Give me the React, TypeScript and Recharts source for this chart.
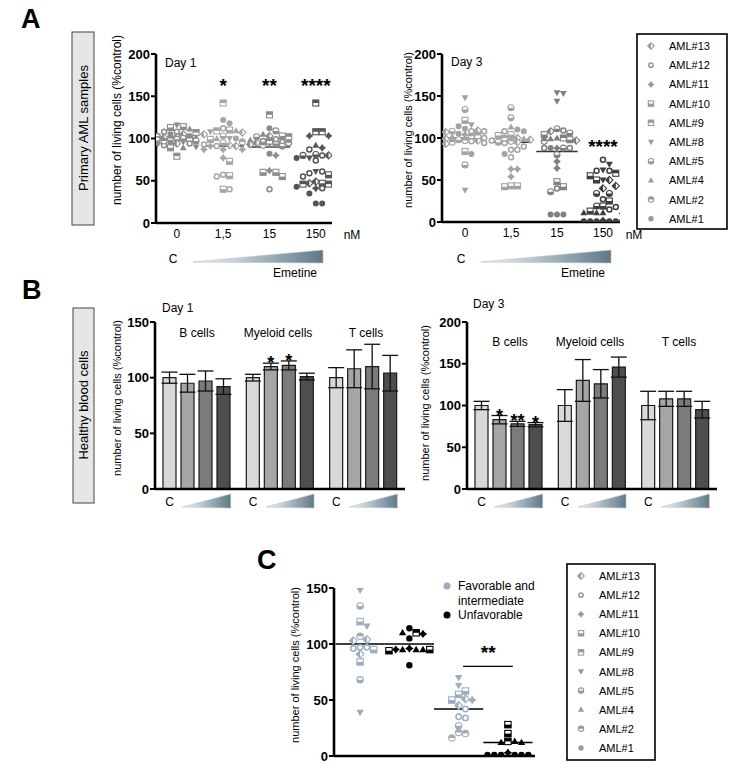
import React from 'react';
import { ScatterChart, Scatter, XAxis, YAxis, ReferenceLine, BarChart, Bar, ErrorBar, LabelList } from 'recharts';

const FONT = '"Liberation Sans", Arial, Helvetica, sans-serif';

type Pt = [string, number];

const legendSamples = ['13', '12', '11', '10', '9', '8', '5', '4', '2', '1'];
const doseLabels = ['0', '1,5', '15', '150'];

// Panel A, day 1: [AML sample, % of control]
const day1Dose0: Pt[] = [['8', 116], ['10', 114], ['13', 105], ['12', 108], ['12', 108], ['9', 107], ['4', 111], ['10', 113], ['1', 103], ['12', 103], ['13', 102], ['1', 105], ['5', 100], ['2', 100], ['12', 99], ['13', 101], ['5', 99], ['9', 100], ['4', 101], ['8', 96], ['12', 94], ['12', 92], ['8', 90], ['13', 94], ['11', 94], ['1', 95], ['4', 89], ['10', 89], ['9', 79], ['2', 97], ['5', 97]];
const day1Dose1: Pt[] = [['9', 142], ['1', 118], ['1', 122], ['10', 110], ['9', 109], ['8', 108], ['13', 107], ['4', 109], ['12', 112], ['13', 105], ['8', 100], ['4', 100], ['1', 100], ['10', 99], ['12', 91], ['13', 92], ['12', 93], ['13', 91], ['11', 91], ['11', 87], ['11', 87], ['11', 87], ['11', 77], ['10', 73], ['10', 56], ['12', 55], ['12', 57], ['10', 40], ['12', 40], ['5', 95], ['2', 96], ['5', 103]];
const day1Dose2: Pt[] = [['9', 128], ['1', 112], ['5', 109], ['4', 105], ['13', 103], ['5', 102], ['10', 103], ['9', 102], ['12', 96], ['13', 95], ['5', 94], ['2', 95], ['12', 97], ['4', 98], ['13', 93], ['8', 93], ['2', 92], ['5', 91], ['11', 80], ['1', 82], ['11', 62], ['10', 60], ['10', 55], ['10', 60], ['12', 40], ['12', 99], ['9', 97]];
const day1Dose3: Pt[] = [['9', 142], ['9', 108], ['11', 103], ['11', 103], ['9', 108], ['11', 89], ['12', 87], ['4', 92], ['5', 81], ['12', 80], ['13', 80], ['5', 80], ['12', 80], ['8', 77], ['1', 77], ['12', 74], ['8', 61], ['12', 59], ['12', 55], ['5', 55], ['10', 57], ['12', 61], ['10', 47], ['13', 49], ['9', 46], ['9', 46], ['13', 47], ['13', 45], ['11', 41], ['1', 43], ['12', 41], ['1', 35], ['1', 23], ['1', 23]];
const day1Means = [100, 91, 90, 68];
const day1Stars = ['', '*', '**', '****'];
const day1StarLevel = 167;

// Panel A, day 3
const day3Dose0: Pt[] = [['8', 148], ['5', 134], ['10', 121], ['8', 116], ['1', 114], ['1', 111], ['13', 109], ['12', 108], ['5', 108], ['13', 107], ['12', 108], ['11', 104], ['2', 102], ['4', 101], ['12', 100], ['13', 99], ['5', 98], ['2', 97], ['12', 96], ['13', 97], ['2', 95], ['12', 94], ['13', 93], ['10', 84], ['1', 81], ['5', 68], ['8', 38], ['9', 103], ['1', 105]];
const day3Dose1: Pt[] = [['5', 136], ['5', 124], ['4', 113], ['12', 108], ['10', 104], ['1', 110], ['10', 103], ['1', 108], ['13', 98], ['13', 100], ['4', 99], ['12', 97], ['2', 96], ['5', 95], ['12', 94], ['13', 95], ['12', 86], ['12', 90], ['12', 86], ['12', 77], ['1', 81], ['11', 63], ['11', 63], ['11', 54], ['10', 43], ['10', 42], ['10', 43], ['2', 100]];
const day3Dose2: Pt[] = [['8', 154], ['8', 153], ['8', 144], ['5', 111], ['13', 108], ['12', 109], ['10', 104], ['5', 106], ['4', 100], ['4', 99], ['10', 98], ['9', 100], ['13', 97], ['11', 88], ['5', 88], ['1', 88], ['12', 88], ['12', 88], ['5', 80], ['11', 72], ['11', 64], ['10', 48], ['10', 42], ['12', 40], ['5', 36], ['1', 9], ['1', 9], ['1', 9], ['2', 96]];
const day3Dose3: Pt[] = [['12', 74], ['8', 62], ['12', 61], ['12', 61], ['8', 69], ['9', 58], ['8', 50], ['13', 50], ['10', 55], ['10', 50], ['13', 43], ['13', 40], ['5', 34], ['5', 34], ['12', 27], ['10', 25], ['10', 19], ['5', 19], ['12', 18], ['10', 13], ['4', 11], ['4', 11], ['4', 11], ['4', 12], ['1', 1], ['1', 1], ['1', 1], ['1', 1], ['1', 1], ['1', 1], ['1', 1], ['11', 2], ['12', 15]];
const day3Means = [100, 95, 84, 30];
const day3Stars = ['', '', '', '****'];
const day3StarLevel = 94;

// Panel B: rows = cell types, columns = control, then increasing emetine
const cellTypes = ['B cells', 'Myeloid cells', 'T cells'];
const bDay1Means = [[100, 95, 97, 92], [100, 110, 111, 101], [100, 108, 110, 104]];
const bDay1Errors = [[5, 8, 9, 7], [3, 3, 4, 3], [9, 17, 20, 16]];
const bDay1Stars = [['', '', '', ''], ['', '*', '*', ''], ['', '', '', '']];
const bDay3Means = [[100, 83, 78, 77], [100, 130, 126, 146], [100, 108, 108, 95]];
const bDay3Errors = [[5, 5, 3, 2.5], [19, 25, 17, 12], [17, 9, 9, 10]];
const bDay3Stars = [['', '*', '**', '*'], ['', '', '', ''], ['', '', '', '']];

// Panel C: favorable/intermediate vs unfavorable, control and 150 nM
const cFavCtrl: Pt[] = [['8', 148], ['5', 134], ['8', 116], ['10', 120], ['2', 107], ['13', 104], ['13', 103], ['12', 97], ['12', 97], ['10', 95], ['13', 91], ['12', 96], ['10', 84], ['5', 68], ['8', 39]];
const cUnfCtrl: Pt[] = [['9', 110], ['1', 114], ['11', 109], ['4', 110], ['1', 105], ['11', 96], ['4', 95], ['4', 95], ['4', 95], ['11', 95], ['10', 94], ['10', 95], ['1', 81]];
const cFavTreated: Pt[] = [['8', 70], ['8', 63], ['10', 58], ['10', 55], ['10', 50], ['11', 50], ['13', 51], ['13', 45], ['12', 42], ['12', 35], ['12', 34], ['5', 27], ['2', 21], ['2', 16], ['2', 20]];
const cUnfTreated: Pt[] = [['10', 28], ['10', 20], ['9', 13], ['4', 12], ['4', 12], ['4', 13], ['1', 1], ['1', 1], ['1', 1], ['1', 1], ['1', 1], ['1', 1], ['11', 3]];
const cMeans = [100, 100, 42, 12];
const cSigLevel = 80;

const day1Colors = ['#8c8c8c', '#a6a6a6', '#8c8c8c', '#555555'];
const day1MeanColors = ['#222', '#333', '#444', '#aaa'];
const day3Colors = ['#a3a3a3', '#a3a3a3', '#808080', '#3d3d3d'];
const day3MeanColors = ['#666', '#333', '#333', '#222'];
const cColors = ['#9dadbf', '#000', '#9dadbf', '#000'];
const barFills = ['#d9d9d9', '#a6a6a6', '#7b7b7b', '#4e4e4e'];

// greedy beeswarm, returns x offsets in axis units
function swarm(vals: number[], pxX: number, pxY: number, step: number, maxPx: number) {
  const order = vals.map((_, i) => i).sort((a, b) => vals[b] - vals[a]);
  const cands = [0];
  for (let k = 1; k * step <= maxPx + 0.01; k++) cands.push(k * step, -k * step);
  const placed: { x: number; y: number }[] = [];
  const out = new Array(vals.length).fill(0);
  for (const i of order) {
    const y = vals[i] * pxY;
    let best = 0;
    let bestD = -1;
    for (const c of cands) {
      let d = Infinity;
      for (const p of placed) d = Math.min(d, Math.hypot(p.x - c, p.y - y));
      if (d >= step * 0.95) { best = c; break; }
      if (d > bestD) { bestD = d; best = c; }
    }
    placed.push({ x: best, y });
    out[i] = best / pxX;
  }
  return out;
}

function buildSwarm(groups: Pt[][], colors: string[], pxX: number, pxY: number, step: number, maxPx: number) {
  return groups.flatMap((g, gi) => {
    const offs = swarm(g.map((p) => p[1]), pxX, pxY, step, maxPx);
    return g.map((p, i) => ({ x: gi + offs[i], y: p[1], s: p[0], c: colors[gi] }));
  });
}

const Marker = ({ x, y, s, c, r = 3 }: { x: number; y: number; s: string; c: string; r?: number }) => {
  const ring = { fill: '#fff', stroke: c, strokeWidth: 1.1 };
  switch (s) {
    case '13': {
      const d = r * 1.2;
      return (
        <g>
          <path d={`M${x},${y - d}L${x + d},${y}L${x},${y + d}L${x - d},${y}Z`} {...ring} />
          <path d={`M${x},${y - d}L${x},${y + d}L${x - d},${y}Z`} fill={c} />
        </g>
      );
    }
    case '12':
      return <circle cx={x} cy={y} r={r - 0.5} fill="#fff" stroke={c} strokeWidth={1.5} />;
    case '11': {
      const R = r * 1.3;
      const k = r * 0.55;
      return <path d={`M${x},${y - R}L${x + k},${y - k}L${x + R},${y}L${x + k},${y + k}L${x},${y + R}L${x - k},${y + k}L${x - R},${y}L${x - k},${y - k}Z`} fill={c} />;
    }
    case '10':
      return (
        <g>
          <rect x={x - r} y={y - r} width={2 * r} height={2 * r} {...ring} />
          <rect x={x - r} y={y} width={2 * r} height={r} fill={c} />
        </g>
      );
    case '9':
      return (
        <g>
          <rect x={x - r} y={y - r} width={2 * r} height={2 * r} {...ring} />
          <rect x={x - r} y={y - r} width={2 * r} height={r} fill={c} />
        </g>
      );
    case '8':
      return <path d={`M${x - r * 1.15},${y - r * 0.8}L${x + r * 1.15},${y - r * 0.8}L${x},${y + r * 1.2}Z`} fill={c} />;
    case '5':
      return (
        <g>
          <circle cx={x} cy={y} r={r} {...ring} />
          <path d={`M${x - r},${y}A${r},${r} 0 0 0 ${x + r},${y}Z`} fill={c} />
        </g>
      );
    case '4':
      return <path d={`M${x},${y - r * 1.2}L${x + r * 1.15},${y + r * 0.8}L${x - r * 1.15},${y + r * 0.8}Z`} fill={c} />;
    case '2':
      return (
        <g>
          <circle cx={x} cy={y} r={r} {...ring} />
          <path d={`M${x - r},${y}A${r},${r} 0 0 1 ${x + r},${y}Z`} fill={c} />
        </g>
      );
    default:
      return <circle cx={x} cy={y} r={r} fill={c} />;
  }
};

const starShape = (size: number) => (p: any) => (
  <text x={p.cx} y={p.cy + size * 0.55} textAnchor="middle" fontSize={size} fontWeight={700} fontFamily={FONT} fill="#000">
    {p.payload.t}
  </text>
);

const yTickStyle = { fontSize: 13, fontWeight: 700, fill: '#000', fontFamily: FONT };
const axisStyle = { stroke: '#000', strokeWidth: 2.6 };

interface DotPlotProps {
  left: number; top: number; width: number; height: number;
  groups: Pt[][]; colors: string[]; means: number[]; meanColors: string[];
  stars: { x: number; y: number; t: string }[]; xDomain: [number, number];
  yMax: number; yTicks: number[]; showDose?: boolean; halfWidth?: number;
  sig?: { x1: number; x2: number; y: number } | null; r?: number; step?: number;
}

const DotPlot = ({ left, top, width, height, groups, colors, means, meanColors, stars, xDomain, yMax, yTicks, showDose = true, halfWidth = 0.45, sig = null, r = 3, step = 6.4 }: DotPlotProps) => {
  const rightM = showDose ? 20 : 15;
  const plotW = width - 60 - rightM;
  const plotH = height - 20 - (showDose ? 30 : 24);
  const pxX = plotW / (xDomain[1] - xDomain[0]);
  const pxY = plotH / yMax;
  const pts = buildSwarm(groups, colors, pxX, pxY, step, halfWidth * pxX - 1);
  return (
    <div style={{ position: 'absolute', left, top }}>
      <ScatterChart width={width} height={height} margin={{ top: 20, right: rightM, bottom: 0, left: 0 }}>
        <XAxis
          type="number" dataKey="x" domain={xDomain} allowDataOverflow ticks={showDose ? [0, 1, 2, 3] : []}
          tickFormatter={(v: number) => doseLabels[v] ?? ''} tick={showDose ? { fontSize: 12, fill: '#000', fontFamily: FONT } : false}
          tickLine={false} tickSize={0} tickMargin={6} axisLine={axisStyle} height={showDose ? 30 : 24}
        />
        <YAxis
          type="number" dataKey="y" domain={[0, yMax]} allowDataOverflow ticks={yTicks} width={60}
          tick={yTickStyle} tickSize={5} tickMargin={1} tickLine={{ stroke: '#000', strokeWidth: 2 }} axisLine={axisStyle}
        />
        <Scatter data={pts} isAnimationActive={false} shape={(p: any) => <Marker x={p.cx} y={p.cy} s={p.payload.s} c={p.payload.c} r={r} />} />
        {means.map((m, i) => (
          <ReferenceLine key={i} segment={[{ x: i - halfWidth, y: m }, { x: i + halfWidth, y: m }]} stroke={meanColors[i]} strokeWidth={1.5} />
        ))}
        {sig && <ReferenceLine segment={[{ x: sig.x1, y: sig.y }, { x: sig.x2, y: sig.y }]} stroke="#000" strokeWidth={1.3} />}
        <Scatter data={stars} isAnimationActive={false} shape={starShape(19)} />
      </ScatterChart>
    </div>
  );
};

const RampTick = (p: any) => {
  const { x, y } = p;
  return (
    <g>
      <defs>
        <linearGradient id="rampBar" x1="0" x2="1" y1="0" y2="0">
          <stop offset="0%" stopColor="#f7f9fa" />
          <stop offset="100%" stopColor="#5e7a88" />
        </linearGradient>
      </defs>
      <text x={x - 27} y={y + 17} textAnchor="middle" fontSize={12} fontFamily={FONT} fill="#000">C</text>
      <polygon points={`${x - 14},${y + 18} ${x + 34},${y + 5} ${x + 34},${y + 19}`} fill="url(#rampBar)" stroke="#b5c0c6" strokeWidth={0.6} />
    </g>
  );
};

interface BarPanelProps {
  left: number; top: number; means: number[][]; errors: number[][]; stars: string[][]; yMax: number; yTicks: number[];
}

const BarPanel = ({ left, top, means, errors, stars, yMax, yTicks }: BarPanelProps) => {
  const rows = cellTypes.map((name, i) => {
    const row: any = { name };
    means[i].forEach((v, k) => { row[`v${k}`] = v; row[`e${k}`] = errors[i][k]; row[`s${k}`] = stars[i][k]; });
    return row;
  });
  const starContent = (k: number) => (p: any) => {
    const row = rows[p.index];
    if (!row || !row[`s${k}`]) return null;
    const pxPerUnit = Number(p.height) / row[`v${k}`];
    const capY = Number(p.y) - row[`e${k}`] * pxPerUnit;
    return (
      <text x={Number(p.x) + Number(p.width) / 2} y={capY + 6} textAnchor="middle" fontSize={18} fontWeight={700} fontFamily={FONT} fill="#000">
        {row[`s${k}`]}
      </text>
    );
  };
  return (
    <div style={{ position: 'absolute', left, top }}>
      <BarChart width={330} height={217} data={rows} margin={{ top: 20, right: 20, bottom: 0, left: 0 }} barSize={13} barGap={5}>
        <XAxis dataKey="name" type="category" tick={<RampTick />} tickLine={false} tickSize={0} tickMargin={0} axisLine={axisStyle} height={30} interval={0} />
        <YAxis
          type="number" domain={[0, yMax]} ticks={yTicks} width={60} allowDataOverflow
          tick={yTickStyle} tickSize={5} tickMargin={1} tickLine={{ stroke: '#000', strokeWidth: 2 }} axisLine={axisStyle}
        />
        {[0, 1, 2, 3].map((k) => (
          <Bar key={k} dataKey={`v${k}`} fill={barFills[k]} stroke="#1a1a1a" strokeWidth={1.2} isAnimationActive={false}>
            <ErrorBar dataKey={`e${k}`} width={8} stroke="#111" strokeWidth={1.3} direction="y" />
            <LabelList dataKey={`s${k}`} content={starContent(k)} />
          </Bar>
        ))}
      </BarChart>
    </div>
  );
};

const LegendBox = ({ x, y, w, h, step }: { x: number; y: number; w: number; h: number; step: number }) => (
  <g>
    <rect x={x} y={y} width={w} height={h} fill="#fff" stroke="#000" strokeWidth={1.6} />
    {legendSamples.map((s, i) => (
      <g key={s}>
        <Marker x={x + 14} y={y + 12 + i * step} s={s} c="#9a9a9a" r={2.7} />
        <text x={x + 32} y={y + 16 + i * step} fontSize={11} fontFamily={FONT} fill="#000">AML#{s}</text>
      </g>
    ))}
  </g>
);

const VText = ({ x, y, size, children }: { x: number; y: number; size: number; children: React.ReactNode }) => (
  <text transform={`translate(${x + size * 0.36},${y}) rotate(-90)`} textAnchor="middle" fontSize={size} fontFamily={FONT} fill="#000">
    {children}
  </text>
);

const Ramp = ({ dx }: { dx: number }) => (
  <g>
    <text x={173 + dx} y={263} textAnchor="middle" fontSize={12} fontFamily={FONT}>C</text>
    <polygon points={`${193 + dx},262 ${323 + dx},250 ${323 + dx},263`} fill="url(#rampA)" stroke="#b5c0c6" strokeWidth={0.6} />
    <text x={295 + dx} y={277} textAnchor="middle" fontSize={12} fontFamily={FONT}>Emetine</text>
  </g>
);

export default function App() {
  const mkStars = (labels: string[], level: number) => labels.map((t, i) => ({ x: i, y: level, t })).filter((d) => d.t);
  return (
    <div style={{ position: 'absolute', left: 0, top: 0, width: 753, height: 780, background: '#fff', fontFamily: FONT, overflow: 'hidden' }}>
      <DotPlot
        left={96} top={34} width={256} height={219}
        groups={[day1Dose0, day1Dose1, day1Dose2, day1Dose3]} colors={day1Colors} means={day1Means} meanColors={day1MeanColors}
        stars={mkStars(day1Stars, day1StarLevel)} xDomain={[-0.45, 3.35]} yMax={200} yTicks={[0, 50, 100, 150, 200]}
      />
      <DotPlot
        left={382} top={34} width={258} height={218}
        groups={[day3Dose0, day3Dose1, day3Dose2, day3Dose3]} colors={day3Colors} means={day3Means} meanColors={day3MeanColors}
        stars={mkStars(day3Stars, day3StarLevel)} xDomain={[-0.5, 3.37]} yMax={200} yTicks={[0, 50, 100, 150, 200]}
      />
      <BarPanel left={95} top={302} means={bDay1Means} errors={bDay1Errors} stars={bDay1Stars} yMax={150} yTicks={[0, 50, 100, 150]} />
      <BarPanel left={407} top={302} means={bDay3Means} errors={bDay3Errors} stars={bDay3Stars} yMax={200} yTicks={[0, 50, 100, 150, 200]} />
      <DotPlot
        left={274} top={568} width={276} height={212} showDose={false} halfWidth={0.5} r={3.2} step={6.8}
        groups={[cFavCtrl, cUnfCtrl, cFavTreated, cUnfTreated]} colors={cColors} means={cMeans} meanColors={['#000', '#000', '#000', '#000']}
        stars={[{ x: 2.6, y: 96, t: '**' }]} xDomain={[-0.53, 3.55]} yMax={150} yTicks={[0, 50, 100, 150]}
        sig={{ x1: 2.09, x2: 3.1, y: cSigLevel }}
      />
      <svg width={753} height={780} style={{ position: 'absolute', left: 0, top: 0, pointerEvents: 'none' }}>
        <defs>
          <linearGradient id="rampA" x1="0" x2="1" y1="0" y2="0">
            <stop offset="0%" stopColor="#f7f9fa" />
            <stop offset="100%" stopColor="#5e7a88" />
          </linearGradient>
        </defs>
        {/* panel A */}
        <text x={21} y={28} fontSize={27} fontWeight={700} fontFamily={FONT}>A</text>
        <rect x={72} y={32} width={22} height={193} fill="#e6e6e6" stroke="#444" strokeWidth={1} />
        <VText x={83} y={128} size={13}>Primary AML samples</VText>
        <VText x={117} y={120} size={12}>number of living cells (%control)</VText>
        <VText x={408} y={130} size={11}>number of living cells (%control)</VText>
        <text x={165} y={67} fontSize={12} fontFamily={FONT}>Day 1</text>
        <text x={451} y={66} fontSize={12} fontFamily={FONT}>Day 3</text>
        <text x={352} y={239} textAnchor="middle" fontSize={12} fontFamily={FONT}>nM</text>
        <text x={634} y={239} textAnchor="middle" fontSize={12} fontFamily={FONT}>nM</text>
        <Ramp dx={0} />
        <Ramp dx={288} />
        <LegendBox x={637} y={34} w={90} h={195} step={19.2} />
        {/* panel B */}
        <text x={22} y={299} fontSize={27} fontWeight={700} fontFamily={FONT}>B</text>
        <rect x={73} y={308} width={21} height={195} fill="#e6e6e6" stroke="#444" strokeWidth={1} />
        <VText x={83.5} y={405} size={13}>Healthy blood cells</VText>
        <VText x={117} y={398} size={11}>number of living cells (%control)</VText>
        <VText x={425} y={403} size={11}>number of living cells (%control)</VText>
        <text x={162} y={312} fontSize={12} fontFamily={FONT}>Day 1</text>
        <text x={473} y={308} fontSize={12} fontFamily={FONT}>Day 3</text>
        {[197, 278, 366].map((cx, i) => (
          <text key={i} x={cx} y={337} textAnchor="middle" fontSize={12} fontFamily={FONT}>{cellTypes[i]}</text>
        ))}
        {[510, 590, 679].map((cx, i) => (
          <text key={i} x={cx} y={346} textAnchor="middle" fontSize={12} fontFamily={FONT}>{cellTypes[i]}</text>
        ))}
        {/* panel C */}
        <text x={257} y={569} fontSize={27} fontWeight={700} fontFamily={FONT}>C</text>
        <VText x={295} y={665} size={11}>number of living cells (%control)</VText>
        <circle cx={447} cy={586} r={3.5} fill="#9dadbf" />
        <text x={458} y={590} fontSize={12} fontFamily={FONT}>Favorable and</text>
        <text x={458} y={605} fontSize={12} fontFamily={FONT}>intermediate</text>
        <circle cx={447} cy={615} r={3.5} fill="#000" />
        <text x={458} y={619} fontSize={12} fontFamily={FONT}>Unfavorable</text>
        <LegendBox x={567} y={564} w={88} h={196} step={19.1} />
      </svg>
    </div>
  );
}
